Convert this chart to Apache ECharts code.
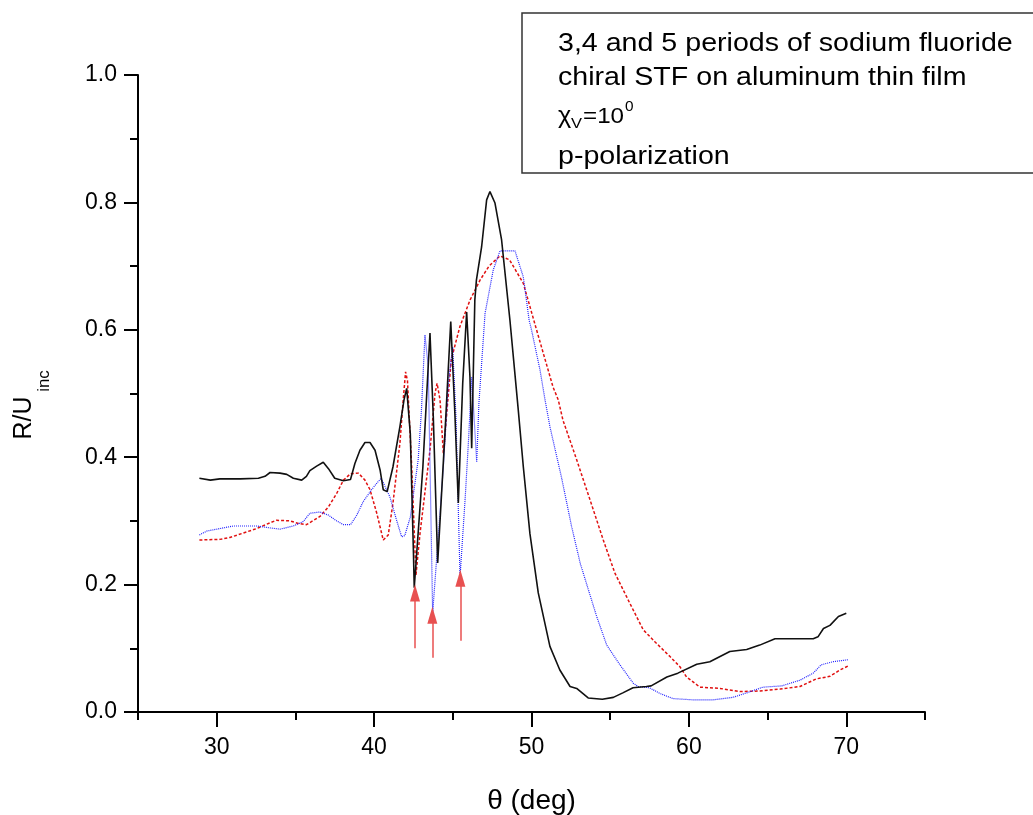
<!DOCTYPE html>
<html>
<head>
<meta charset="utf-8">
<script src="https://cdn.jsdelivr.net/npm/echarts@6/dist/echarts.min.js"></script>
<style>
html,body{margin:0;padding:0;background:#fff;}
#chart{width:1033px;height:815px;}
</style>
</head>
<body>
<div id="chart"></div>
<script>
// ---- data (theta in deg, R/Uinc) ----
const blackCurve = [
[28.9,0.367],[29.6,0.364],[30.2,0.366],[31.5,0.366],[32.65,0.367],[33.07,0.370],[33.39,0.376],[34.02,0.375],[34.45,0.373],[34.87,0.367],[35.4,0.364],[35.7,0.370],[35.92,0.379],[36.35,0.386],[36.77,0.392],[37.1,0.382],[37.5,0.367],[38.05,0.363],[38.5,0.365],[38.78,0.390],[39.1,0.411],[39.42,0.423],[39.74,0.423],[40.06,0.411],[40.38,0.380],[40.58,0.349],[40.83,0.346],[41.2,0.385],[41.64,0.448],[41.9,0.490],[42.07,0.508],[42.3,0.437],[42.5,0.250],[42.55,0.195],[43.1,0.385],[43.55,0.595],[43.76,0.464],[44.04,0.234],[44.5,0.437],[44.87,0.613],[45.14,0.464],[45.35,0.328],[45.63,0.516],[45.88,0.628],[46.09,0.526],[46.2,0.414],[46.4,0.647],[46.5,0.678],[46.83,0.730],[47.15,0.804],[47.36,0.817],[47.68,0.799],[48.1,0.741],[48.63,0.615],[49.16,0.474],[49.48,0.385],[49.9,0.280],[50.43,0.187],[51.17,0.103],[51.8,0.066],[52.45,0.040],[52.87,0.037],[53.6,0.022],[54.5,0.020],[55.2,0.023],[55.8,0.030],[56.45,0.038],[57.3,0.040],[57.6,0.041],[58.6,0.055],[59.3,0.061],[60.5,0.075],[61.33,0.079],[62.6,0.095],[63.67,0.098],[64.5,0.105],[65.47,0.115],[66.2,0.115],[67.9,0.115],[68.2,0.118],[68.55,0.131],[68.96,0.136],[69.5,0.150],[70.0,0.155]
];
const redCurve = [
[28.9,0.270],[30.2,0.271],[30.84,0.274],[31.7,0.281],[32.54,0.288],[33.39,0.297],[33.8,0.301],[34.66,0.300],[35.19,0.296],[35.7,0.294],[36.56,0.307],[37.1,0.322],[37.62,0.343],[38.05,0.364],[38.5,0.374],[39.0,0.375],[39.42,0.364],[39.74,0.349],[40.17,0.312],[40.58,0.270],[40.9,0.278],[41.2,0.328],[41.64,0.422],[41.85,0.490],[42.0,0.534],[42.12,0.520],[42.39,0.385],[42.66,0.215],[42.92,0.281],[43.55,0.411],[43.87,0.500],[44.0,0.516],[44.19,0.490],[44.4,0.406],[44.6,0.464],[44.9,0.553],[45.45,0.605],[46.1,0.647],[46.73,0.678],[47.3,0.700],[48.0,0.716],[48.6,0.710],[49.48,0.673],[50.32,0.600],[51.37,0.510],[51.7,0.490],[52.0,0.458],[52.87,0.396],[53.72,0.333],[54.56,0.270],[55.0,0.239],[55.3,0.218],[56.04,0.181],[56.26,0.170],[57.1,0.129],[57.85,0.110],[58.8,0.087],[59.43,0.071],[59.85,0.055],[60.7,0.039],[61.98,0.037],[63.25,0.032],[64.52,0.033],[65.8,0.036],[67.06,0.040],[68.1,0.052],[68.96,0.056],[69.6,0.066],[70.1,0.072]
];
const blueCurve = [
[28.9,0.278],[29.37,0.284],[30.2,0.288],[31.05,0.292],[32.54,0.292],[33.39,0.289],[34.02,0.287],[34.87,0.292],[35.5,0.299],[35.92,0.312],[36.56,0.314],[37.1,0.309],[37.62,0.300],[38.05,0.294],[38.5,0.294],[38.9,0.309],[39.3,0.330],[39.84,0.349],[40.2,0.360],[40.45,0.367],[41.0,0.338],[41.43,0.301],[41.75,0.275],[41.95,0.277],[42.3,0.306],[42.8,0.396],[43.0,0.470],[43.23,0.592],[43.44,0.542],[43.72,0.155],[44.4,0.385],[44.72,0.516],[44.99,0.573],[45.2,0.464],[45.46,0.212],[45.78,0.333],[46.0,0.427],[46.2,0.526],[46.52,0.393],[46.66,0.485],[47.05,0.626],[47.57,0.694],[48.0,0.724],[48.95,0.724],[49.48,0.683],[49.85,0.615],[50.0,0.600],[50.54,0.537],[50.86,0.490],[51.17,0.448],[51.9,0.369],[52.55,0.291],[53.1,0.233],[54.14,0.150],[54.78,0.105],[55.62,0.074],[56.47,0.045],[56.77,0.040],[57.5,0.038],[58.16,0.029],[59.0,0.021],[60.3,0.019],[61.5,0.019],[62.8,0.023],[63.67,0.030],[64.7,0.039],[65.9,0.041],[67.06,0.050],[67.9,0.061],[68.4,0.074],[69.17,0.079],[70.1,0.082]
];
// arrows: [theta, tail R, head R]
const arrowMarks = [[42.6,0.100,0.187],[43.7,0.085,0.152],[45.48,0.112,0.210]];
const xMajorTicks = [30,40,50,60,70];
const xMinorTicks = [25,35,45,55,65,75];
const legendLines = ['3,4 and 5 periods of sodium fluoride','chiral STF on aluminum thin film','p-polarization'];
const yTitleMain = 'R/U';
const yTitleSub = 'inc';

const FONT = "'Liberation Sans', Arial, sans-serif";
const chart = echarts.init(document.getElementById('chart'), null, {renderer:'canvas'});

const arrowData = arrowMarks.map(a => [{coord:[a[0],a[1]]},{coord:[a[0],a[2]]}]);
const SX = 1.1;

const option = {
  animation:false,
  backgroundColor:'#fff',
  grid:{left:138, right:108, top:75, bottom:103, containLabel:false, outerBoundsMode:'none'},
  xAxis:[{
    type:'value', min:25, max:75, interval:5,
    axisLine:{show:true, onZero:false, lineStyle:{color:'#000', width:2}},
    axisTick:{show:true, inside:false, length:15, customValues:xMajorTicks, lineStyle:{color:'#000', width:2}},
    axisLabel:{show:true, customValues:xMajorTicks, margin:24, color:'#000', fontSize:23, fontFamily:FONT},
    splitLine:{show:false},
    name:'θ (deg)', nameLocation:'middle', nameGap:75,
    nameTextStyle:{color:'#000', fontSize:28, fontFamily:FONT}
  },{
    type:'value', min:25, max:75, interval:5, position:'bottom', offset:0,
    axisLine:{show:false},
    axisTick:{show:true, inside:false, length:8, customValues:xMinorTicks, lineStyle:{color:'#000', width:2}},
    axisLabel:{show:false},
    splitLine:{show:false}
  }],
  yAxis:{
    type:'value', min:0, max:1, interval:0.2,
    axisLine:{show:true, onZero:false, lineStyle:{color:'#000', width:2}},
    axisTick:{show:true, inside:false, length:14, lineStyle:{color:'#000', width:2}},
    minorTick:{show:true, splitNumber:2, length:8, lineStyle:{color:'#000', width:2}},
    axisLabel:{margin:21, color:'#000', fontSize:23, fontFamily:FONT, formatter:v=>v.toFixed(1)},
    splitLine:{show:false}
  },
  series:[
    {type:'line', name:'black', data:blackCurve, showSymbol:false, symbol:'none', smooth:false,
     lineStyle:{color:'#111', width:1.6, type:'solid'}, z:3},
    {type:'line', name:'red', data:redCurve, showSymbol:false, symbol:'none',
     lineStyle:{color:'#e01010', width:1.5, type:[3,2]}, z:2,
     markLine:{silent:true, symbol:['none','triangle'], symbolSize:[10,17],
       label:{show:false}, lineStyle:{color:'#e85050', width:1.5, type:'solid'},
       itemStyle:{color:'#ff0000'}, emphasis:{disabled:true}, data:arrowData}},
    {type:'line', name:'blue', data:blueCurve, showSymbol:false, symbol:'none',
     lineStyle:{color:'#2020ff', width:1.2, type:[1,1]}, z:2}
  ],
  graphic:[
    {type:'text', x:24, y:418, rotation:Math.PI/2, style:{text:yTitleMain, font:'25px '+FONT, fill:'#000', textAlign:'center', textVerticalAlign:'middle'}, z:11},
    {type:'text', x:44, y:381, rotation:Math.PI/2, style:{text:yTitleSub, font:'17px '+FONT, fill:'#000', textAlign:'center', textVerticalAlign:'middle'}, z:11},
    {type:'rect', shape:{x:522, y:13, width:600, height:160}, style:{fill:'#fff', stroke:'#333', lineWidth:1.5}, z:10},
    {type:'text', x:558, y:57, scaleX:SX, style:{text:legendLines[0], font:'26px '+FONT, fill:'#000', textVerticalAlign:'bottom'}, z:11},
    {type:'text', x:558, y:91, scaleX:SX, style:{text:legendLines[1], font:'26px '+FONT, fill:'#000', textVerticalAlign:'bottom'}, z:11},
    {type:'text', x:558, y:128, scaleX:SX, style:{text:'χ', font:'23px '+FONT, fill:'#000', textVerticalAlign:'bottom'}, z:11},
    {type:'text', x:571, y:131, scaleX:SX, style:{text:'V', font:'15px '+FONT, fill:'#000', textVerticalAlign:'bottom'}, z:11},
    {type:'text', x:583, y:127.5, scaleX:SX, style:{text:'=10', font:'22px '+FONT, fill:'#000', textVerticalAlign:'bottom'}, z:11},
    {type:'text', x:625, y:114, scaleX:SX, style:{text:'0', font:'14px '+FONT, fill:'#000', textVerticalAlign:'bottom'}, z:11},
    {type:'text', x:558, y:170, scaleX:SX, style:{text:legendLines[2], font:'26px '+FONT, fill:'#000', textVerticalAlign:'bottom'}, z:11}
  ]
};
chart.setOption(option);
</script>
</body>
</html>
